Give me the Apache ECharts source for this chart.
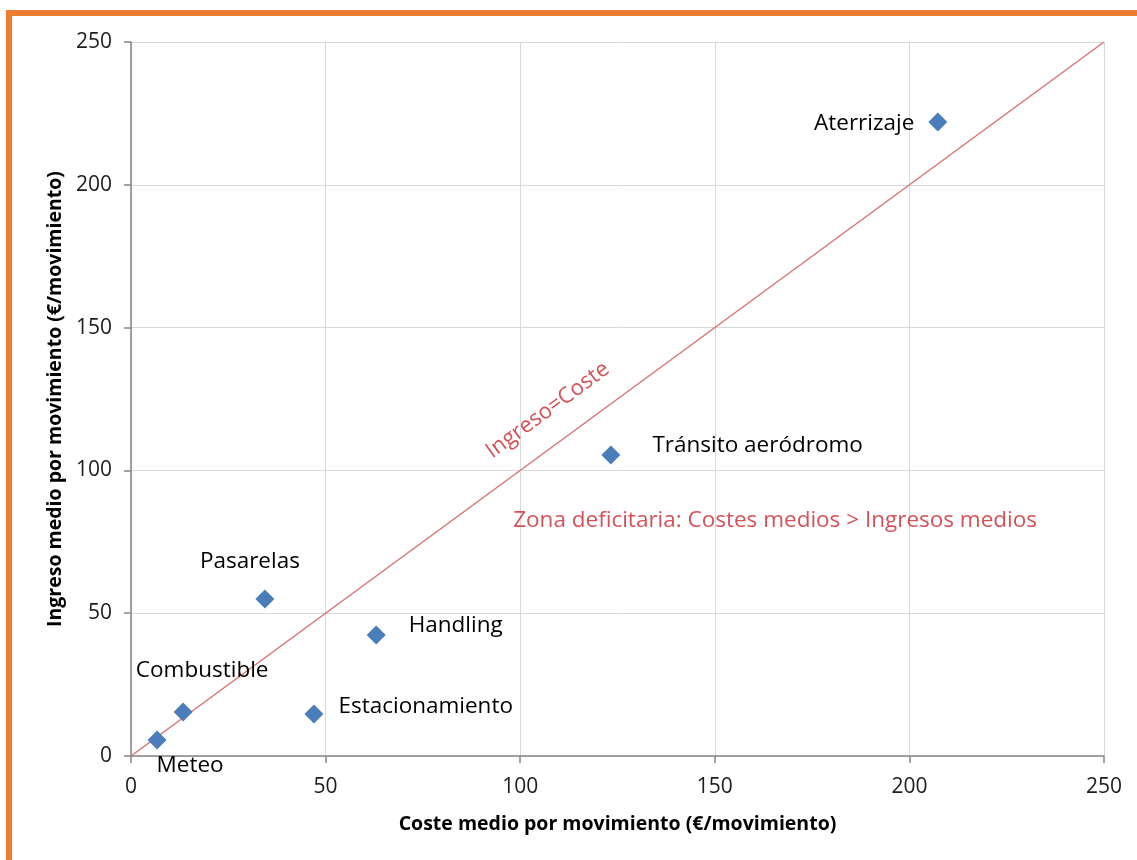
<!DOCTYPE html>
<html>
<head>
<meta charset="utf-8">
<script src="https://cdn.jsdelivr.net/npm/echarts@6/dist/echarts.min.js"></script>
<style>
  html, body { margin: 0; padding: 0; background: #fff; }
  #chart { width: 1137px; height: 860px; }
</style>
</head>
<body>
<div id="chart"></div>
<script>
// Average cost vs. average revenue per movement, by airport service
const services = ['Meteo', 'Combustible', 'Pasarelas', 'Estacionamiento', 'Handling', 'Tránsito aeródromo', 'Aterrizaje'];
const costPerMove = [6.7, 13.4, 34.4, 47.0, 63.0, 123.3, 207.3];
const revenuePerMove = [5.6, 15.4, 55.0, 14.7, 42.4, 105.4, 222.0];
const breakEven = [[0, 0], [250, 250]];
const axisTicks = [0, 50, 100, 150, 200, 250];

const FONT = '"Open Sans", Lato, sans-serif';

// Where each service name sits around its marker
const labelPlacement = {
  'Meteo':              { position: 'bottom', offset: [33, 0] },
  'Combustible':        { position: 'top', offset: [19, -15] },
  'Pasarelas':          { position: 'top', offset: [-15, -11] },
  'Estacionamiento':    { position: 'right', offset: [10, -7] },
  'Handling':           { position: 'right', offset: [18, -9] },
  'Tránsito aeródromo': { position: 'right', offset: [27, -9] },
  'Aterrizaje':         { position: 'left', offset: [-9, 2] }
};

const points = services.map((name, i) => ({
  name: name,
  value: [costPerMove[i], revenuePerMove[i]],
  label: Object.assign({ show: true, formatter: name }, labelPlacement[name])
}));

const chart = echarts.init(document.getElementById('chart'));
chart.setOption({
  animation: false,
  backgroundColor: '#ffffff',
  textStyle: { fontFamily: FONT },
  graphic: [{
    type: 'rect',
    shape: { x: 9, y: 13, width: 2000, height: 2000 },
    style: { fill: 'none', stroke: '#ed7d31', lineWidth: 6 },
    silent: true
  }],
  grid: { left: 131, right: 33, top: 42, bottom: 104, containLabel: false },
  xAxis: {
    type: 'value',
    min: axisTicks[0], max: axisTicks[axisTicks.length - 1], interval: 50,
    name: 'Coste medio por movimiento (€/movimiento)',
    nameLocation: 'middle', nameGap: 58,
    nameTextStyle: { fontFamily: FONT, fontSize: 19.5, fontWeight: 'bold', color: '#000' },
    axisLine: { show: true, lineStyle: { color: '#868686', width: 1.5 } },
    axisTick: { show: true, inside: false, length: 7, lineStyle: { color: '#868686', width: 1.5 } },
    axisLabel: { fontFamily: FONT, fontSize: 21, color: '#1c1c1c', margin: 21 },
    splitLine: { show: true, lineStyle: { color: '#d9d9d9', width: 1 } }
  },
  yAxis: {
    type: 'value',
    min: axisTicks[0], max: axisTicks[axisTicks.length - 1], interval: 50,
    name: 'Ingreso medio por movimiento (€/movimiento)',
    nameLocation: 'middle', nameGap: 65, nameRotate: 90,
    nameTextStyle: { fontFamily: FONT, fontSize: 19.5, fontWeight: 'bold', color: '#000' },
    axisLine: { show: true, lineStyle: { color: '#868686', width: 1.5 } },
    axisTick: { show: true, inside: false, length: 7, lineStyle: { color: '#868686', width: 1.5 } },
    axisLabel: { fontFamily: FONT, fontSize: 21, color: '#1c1c1c', margin: 19 },
    splitLine: { show: true, lineStyle: { color: '#d9d9d9', width: 1 } }
  },
  series: [
    {
      name: 'Ingreso=Coste',
      type: 'line',
      data: breakEven,
      symbol: 'none',
      silent: true,
      lineStyle: { color: '#d87474', width: 1.5 },
      z: 1
    },
    {
      name: 'Servicios',
      type: 'scatter',
      data: points,
      symbol: 'diamond',
      symbolSize: 19,
      itemStyle: { color: '#4a7ebb', opacity: 1 },
      label: { fontFamily: FONT, fontSize: 22.5, color: '#000' },
      z: 3
    },
    {
      // Text annotations placed in data coordinates
      name: 'Notas',
      type: 'scatter',
      symbolSize: 0,
      silent: true,
      z: 2,
      data: [
        {
          value: [107.1, 121.1],
          label: {
            show: true, position: 'inside', formatter: 'Ingreso=Coste',
            rotate: 36.3, fontFamily: FONT, fontSize: 22, color: '#c9252d'
          }
        },
        {
          value: [98.2, 82.6],
          label: {
            show: true, position: 'right', distance: 0, formatter: 'Zona deficitaria: Costes medios > Ingresos medios',
            fontFamily: FONT, fontSize: 22.5, color: '#c9252d'
          }
        }
      ]
    }
  ]
});
</script>
</body>
</html>
